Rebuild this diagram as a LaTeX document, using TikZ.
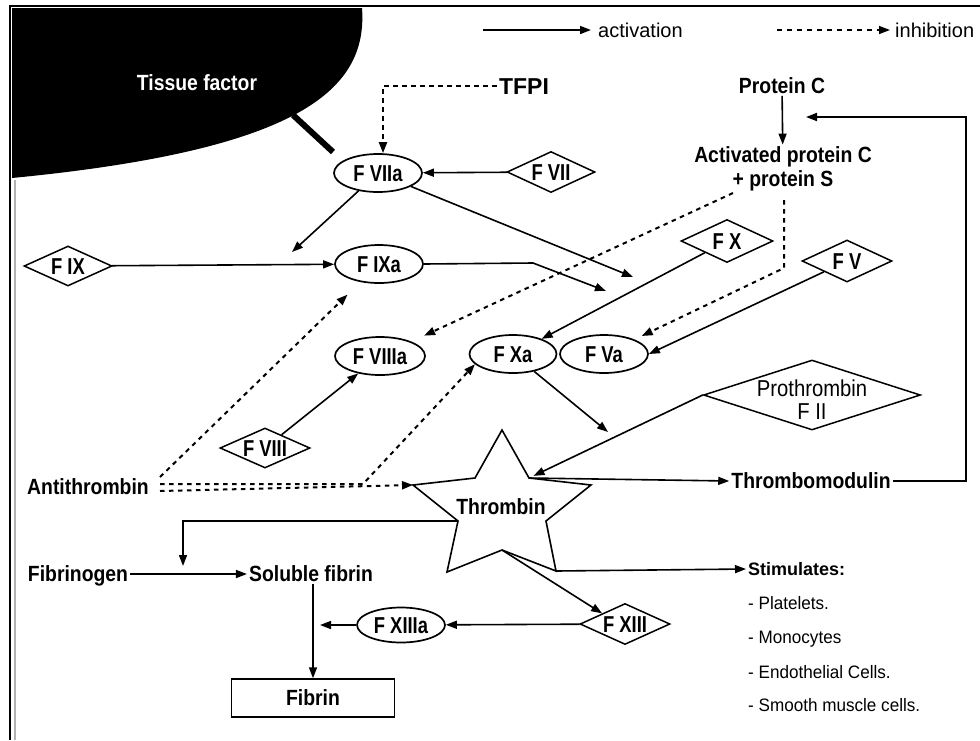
\documentclass[tikz,border=0pt]{standalone}
\usepackage{fontspec}
\setmainfont{Liberation Sans}
\newfontfamily\nf{Liberation Sans}[FakeStretch=0.88]
\newfontfamily\nfc{Liberation Sans}[FakeStretch=0.8]
\newfontfamily\nfs{Liberation Sans}[FakeStretch=0.95]
\usetikzlibrary{shapes.geometric,arrows.meta,calc}
\newcommand\blab{\nf\bfseries\fontsize{22}{24}\selectfont}
\newcommand\flab{\nfc\bfseries\fontsize{23}{24}\selectfont}
\newcommand\plab{\nf\fontsize{23}{23}\selectfont}
\newcommand\llab{\fontsize{20}{24}\selectfont}
\newcommand\slab{\nfs\fontsize{18}{20}\selectfont}
\newcommand\sblab{\bfseries\fontsize{18}{20}\selectfont}
\newcommand\tlab{\bfseries\fontsize{23}{25}\selectfont}
\begin{document}
\begin{tikzpicture}[x=1pt,y=-1pt,
  act/.style={-{Triangle[length=11pt,width=8pt]}, line width=1.6pt},
  inh/.style={-{Triangle[length=11pt,width=8pt]}, line width=2pt, dash pattern=on 4.5pt off 4.5pt},
  ell/.style={ellipse, draw, line width=1.7pt, minimum width=88pt, minimum height=38pt, inner sep=0pt, font=\flab, text height=16.4pt, text depth=0pt},
  dia/.style={diamond, draw, line width=1.5pt, inner sep=0pt, minimum width=90pt, minimum height=41pt},
  fl/.style={font=\flab, inner sep=0pt, text height=16.4pt, text depth=0pt},
  bl/.style={font=\blab, inner sep=2pt, text height=15.5pt, text depth=0pt},
  sl/.style={font=\slab, anchor=west, inner sep=2pt, text height=12.9pt, text depth=0pt},
  lg/.style={font=\llab, anchor=west, inner sep=2pt, text height=14.4pt, text depth=0pt}
]
\useasboundingbox (0,0) rectangle (980,740);
% frame
\draw[line width=2pt] (10,740) -- (10,6) -- (980,6);
\draw[gray!60, line width=1.2pt] (15,180) -- (15,740);
% tissue factor
\fill (12,8) -- (362,8) .. controls (368,90) and (300,150) .. (12,178) -- cycle;
\node[bl, text=white] (tf) at (197,83) {Tissue factor};
\draw[line width=6pt] (293,115) -- (333,152);

% legend
\node[lg] (lact) at (596,30) {activation};
\node[lg] (linh) at (893,30) {inhibition};
\coordinate (la) at (483,30);
\coordinate (li) at (777,30);
\draw[act, shorten >=5pt] (la) -- (lact.west);
\draw[-{Triangle[length=11pt,width=8pt]}, line width=1.5pt, dash pattern=on 5pt off 5pt, shorten >=3pt] (li) -- (linh.west);

% factor nodes
\node[ell] (fviia) at (378,173) {F VIIa};
\node[dia, minimum width=88pt] (fvii) at (551,172) {};
\node[fl] (fviil) at (fvii) {F VII};
\node[ell] (fixa) at (379,264) {F IXa};
\node[dia, minimum width=88pt, minimum height=40pt] (fix) at (68,266) {};
\node[fl] (fixl) at (fix) {F IX};
\node[ell, minimum width=90pt] (fviiia) at (380,356) {F VIIIa};
\node[dia, minimum height=40pt] (fviii) at (265,448) {};
\node[fl] (fviiil) at (fviii) {F VIII};
\node[ell, minimum width=87pt] (fxa) at (513,354) {F Xa};
\node[ell] (fva) at (604,354) {F Va};
\node[dia, minimum width=92pt, minimum height=43pt] (fx) at (727,241) {};
\node[fl] (fxl) at (fx) {F X};
\node[dia, minimum height=42pt] (fv) at (847,261) {};
\node[fl] (fvl) at (fv) {F V};
\node[dia, minimum width=217pt, minimum height=70pt] (proth) at (812,395) {};
\node[font=\plab, align=center, inner sep=0pt] (prothl) at (812,400) {Prothrombin\\F II};
\node[dia, minimum height=41pt] (fxiii) at (625,624) {};
\node[fl] (fxiiil) at (fxiii) {F XIII};
\node[ell, minimum height=35pt] (fxiiia) at (401,625) {F XIIIa};
\node[draw, line width=1.5pt, minimum width=163pt, minimum height=38pt, font=\blab, text height=15.5pt, text depth=0pt, inner sep=0pt] (fibrin) at (313,698) {Fibrin};

% text labels
\node[font=\tlab, inner sep=2pt, text height=16.5pt, text depth=0pt] (tfpi) at (524,86) {TFPI};
\node[bl] (pc) at (782,86) {Protein C};
\node[font=\blab, align=center, inner sep=2pt] (apc) at (783,169) {Activated protein C\\+ protein S};
\node[bl] (tmod) at (811,481) {Thrombomodulin};
\node[bl] (anti) at (88,487) {Antithrombin};
\node[bl] (fibg) at (78,574) {Fibrinogen};
\node[bl] (sfib) at (311,574) {Soluble fibrin};
\node[font=\sblab, anchor=west, inner sep=2pt, text height=13pt, text depth=0pt] (stim) at (746,569) {Stimulates:};
\node[sl] (st1) at (746,603) {- Platelets.};
\node[sl] (st2) at (746,637) {- Monocytes};
\node[sl] (st3) at (746,672) {- Endothelial Cells.};
\node[sl] (st4) at (746,705) {- Smooth muscle cells.};

% thrombin star
\coordinate (thrT) at (502,430);
\coordinate (thrUR) at (529,478);
\coordinate (thrR) at (591,485);
\coordinate (thrLR) at (546,521);
\coordinate (thrBR) at (556,571);
\coordinate (thrB) at (502,550);
\coordinate (thrBL) at (447,572);
\coordinate (thrLL) at (458,521);
\coordinate (thrL) at (413,485);
\coordinate (thrUL) at (475,478);
\draw[line width=1.6pt, line join=miter] (thrT) -- (thrUR) -- (thrR) -- (thrLR) -- (thrBR) -- (thrB) -- (thrBL) -- (thrLL) -- (thrL) -- (thrUL) -- cycle;
\node[bl] (thr) at (501,507) {Thrombin};

% free ends and bends
\coordinate (t1) at (292,252);
\coordinate (t2) at (633,277);
\coordinate (b1) at (533,263);
\coordinate (t3) at (606,291);
\coordinate (t4) at (608,432);
\coordinate (t5) at (320,625);
\coordinate (loopc) at (966,117);
\coordinate (pcin) at (806,117);
\coordinate (fibc) at (183,566);
\coordinate (apcL) at (733,193);
\coordinate (apcB) at (784,200);
\coordinate (apcB2) at (784,268);
\coordinate (an1) at (160,477);
\coordinate (an2) at (160,484);
\coordinate (an2b) at (363,484);
\coordinate (an3) at (160,491);

% activation connectors
\draw[act] (fvii) -- (fviia);
\draw[act] (fviia) -- (t1);
\draw[act] (fviia) -- (t2);
\draw[act] (fix) -- (fixa);
\draw[act] (fixa.east) -- (b1) -- (t3);
\draw[act] (fx) -- (fxa);
\draw[act] (fv) -- (fva.east);
\draw[act] (fviii) -- (fviiia);
\draw[act] (fxa) -- (t4);
\draw[act, shorten >=5pt] (proth.west) -- (thrUR);
\draw[act] (thrUR) -- (tmod.west);
\draw[act, line width=1.8pt] (tmod.east) -| (loopc) -- (pcin);
\draw[act] (pc) -- (apc);
\draw[act] (thrLL) -| (fibc);
\draw[act] (fibg) -- (sfib);
\draw[act] (fibrin.north |- sfib.south) -- (fibrin.north);
\draw[act] (fxiii) -- (fxiiia);
\draw[act] (fxiiia) -- (t5);
\draw[act] (thrB) -- (fxiii.north west);
\draw[act] (thrBR) -- (stim.west);

% inhibition connectors
\draw[inh] (tfpi.west) -| ([xshift=5pt]fviia.north);
\draw[inh, shorten >=14pt] (apcL) -- (fviiia);
\draw[inh, shorten >=8pt] (apcB) -- (apcB2) -- (fva);
\draw[inh, shorten >=18pt] (an1) -- (fixa);
\draw[inh] (an2) -- (an2b) -- (fxa.195);
\draw[inh] (an3) -- (thrL);
\end{tikzpicture}
\end{document}
